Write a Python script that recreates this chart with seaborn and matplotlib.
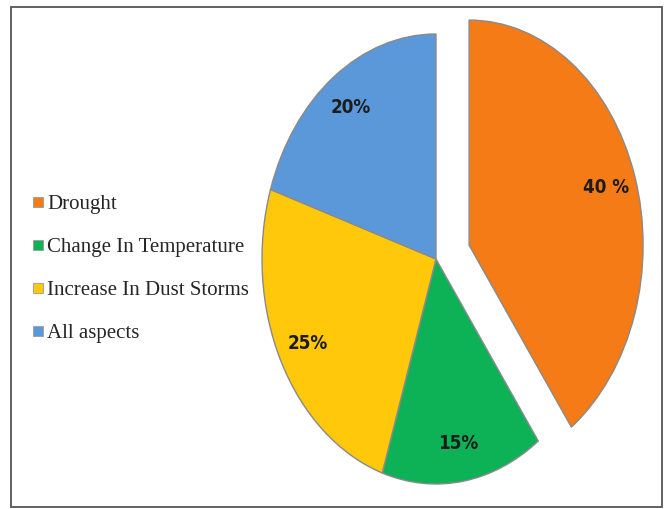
import matplotlib
matplotlib.use("Agg")
import matplotlib.pyplot as plt
from matplotlib.patches import Rectangle
from matplotlib.lines import Line2D
import seaborn as sns

sns.set_theme(style="white")

categories = ["Drought", "Change In Temperature", "Increase In Dust Storms", "All aspects"]
shares = [40, 15, 25, 20]
pct_labels = ["40 %", "15%", "25%", "20%"]
explode = [0.2, 0, 0, 0]
palette = sns.color_palette(["#F47B16", "#0DB257", "#FFC80B", "#5B98DA"])

W, H = 668, 509
fig = plt.figure(figsize=(W / 100, H / 100), dpi=100)
fig.patch.set_facecolor("white")

# Pie axes sized in pixels so the pie is drawn as a tall ellipse
cx, cy = 436, H - 259
rx, ry = 174, 225
xl, yl = 1.3, 1.1
ax = fig.add_axes([(cx - xl * rx) / W, (cy - yl * ry) / H, 2 * xl * rx / W, 2 * yl * ry / H])

wedges, texts, autotexts = ax.pie(
    shares,
    explode=explode,
    colors=palette,
    startangle=90,
    counterclock=False,
    autopct=lambda p: "",
    pctdistance=0.83,
    wedgeprops=dict(edgecolor="#8a8a8a", linewidth=1.0),
)
for t, lab in zip(autotexts, pct_labels):
    t.set_text(lab)
    t.set_fontsize(13.5)
    t.set_fontweight("bold")
    t.set_fontstretch("condensed")
    t.set_color("#1c1c1c")
    t.set_family("DejaVu Sans")
for w in wedges:
    w.set_clip_on(False)

ax.set_aspect("auto")
ax.set_xlim(-xl, xl)
ax.set_ylim(-yl, yl)
ax.axis("off")

# Legend on the left with small square keys
handles = [
    Line2D([0], [0], marker="s", linestyle="none", markersize=7,
           markerfacecolor=c, markeredgecolor="#9a9a9a", markeredgewidth=0.6)
    for c in palette
]
fig.legend(
    handles, categories,
    loc="center left", bbox_to_anchor=(0.019, 0.472),
    frameon=False, handlelength=0.6, handletextpad=0.15,
    labelspacing=1.12,
    prop=dict(family="Liberation Serif", size=15),
)

# Outer frame
fig.patches.append(Rectangle((11 / W, 2 / H), (651) / W, (500) / H,
                             transform=fig.transFigure, fill=False,
                             edgecolor="#555555", linewidth=1.3))

fig.savefig("out.png", dpi=100)
